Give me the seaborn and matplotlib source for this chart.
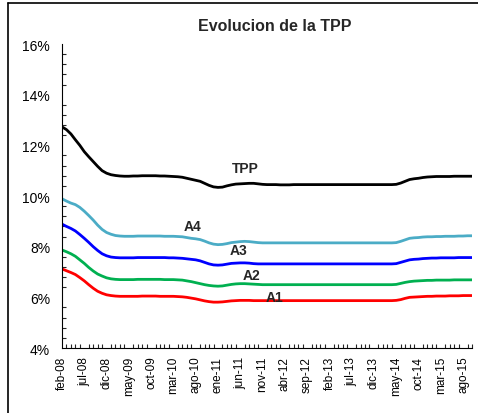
import seaborn as sns
import matplotlib.pyplot as plt
import pandas as pd
from matplotlib.lines import Line2D
from matplotlib.ticker import MultipleLocator, FuncFormatter

# tasas mensuales (%) feb-08 .. oct-15
tpp = [12.73, 12.62, 12.45, 12.22, 12.00, 11.75, 11.55, 11.36, 11.17, 11.00,
       10.90, 10.84, 10.81, 10.79, 10.78, 10.78, 10.79, 10.79, 10.80, 10.80,
       10.80, 10.80, 10.79, 10.79, 10.78, 10.77, 10.76, 10.74, 10.70, 10.66,
       10.62, 10.58, 10.50, 10.42, 10.36, 10.34, 10.35, 10.40, 10.44, 10.47,
       10.48, 10.49, 10.50, 10.50, 10.48, 10.46, 10.45, 10.45, 10.45, 10.44,
       10.44, 10.44, 10.45, 10.45, 10.45, 10.45, 10.45, 10.45, 10.45, 10.45,
       10.45, 10.45, 10.45, 10.45, 10.45, 10.45, 10.45, 10.45, 10.45, 10.45,
       10.45, 10.45, 10.45, 10.45, 10.45, 10.46, 10.51, 10.58, 10.65, 10.68,
       10.70, 10.73, 10.75, 10.76, 10.77, 10.77, 10.77, 10.77, 10.78, 10.78,
       10.78, 10.78, 10.78]
a4 = [9.89, 9.80, 9.72, 9.66, 9.55, 9.40, 9.23, 9.05, 8.85, 8.68,
      8.56, 8.49, 8.44, 8.42, 8.41, 8.41, 8.41, 8.42, 8.42, 8.42,
      8.42, 8.42, 8.42, 8.41, 8.41, 8.41, 8.40, 8.39, 8.36, 8.33,
      8.31, 8.28, 8.22, 8.15, 8.10, 8.08, 8.09, 8.12, 8.16, 8.18,
      8.20, 8.21, 8.20, 8.18, 8.16, 8.15, 8.15, 8.15, 8.15, 8.15,
      8.15, 8.15, 8.15, 8.15, 8.15, 8.15, 8.15, 8.15, 8.15, 8.15,
      8.15, 8.15, 8.15, 8.15, 8.15, 8.15, 8.15, 8.15, 8.15, 8.15,
      8.15, 8.15, 8.15, 8.15, 8.15, 8.16, 8.21, 8.27, 8.33, 8.35,
      8.36, 8.38, 8.39, 8.39, 8.40, 8.40, 8.41, 8.41, 8.41, 8.42,
      8.42, 8.43, 8.43]
a3 = [8.89, 8.80, 8.72, 8.62, 8.48, 8.33, 8.17, 8.00, 7.85, 7.72,
      7.64, 7.59, 7.57, 7.56, 7.56, 7.56, 7.56, 7.57, 7.57, 7.57,
      7.57, 7.57, 7.57, 7.57, 7.56, 7.56, 7.55, 7.54, 7.52, 7.50,
      7.48, 7.44, 7.38, 7.32, 7.28, 7.27, 7.28, 7.31, 7.34, 7.35,
      7.36, 7.36, 7.35, 7.33, 7.32, 7.32, 7.32, 7.32, 7.32, 7.32,
      7.32, 7.32, 7.32, 7.32, 7.32, 7.32, 7.32, 7.32, 7.32, 7.32,
      7.32, 7.32, 7.32, 7.32, 7.32, 7.32, 7.32, 7.32, 7.32, 7.32,
      7.32, 7.32, 7.32, 7.32, 7.32, 7.33, 7.38, 7.43, 7.48, 7.50,
      7.51, 7.53, 7.54, 7.55, 7.55, 7.56, 7.56, 7.56, 7.56, 7.57,
      7.57, 7.57, 7.57]
a2 = [7.87, 7.80, 7.72, 7.62, 7.48, 7.34, 7.18, 7.04, 6.92, 6.84,
      6.77, 6.73, 6.71, 6.70, 6.70, 6.70, 6.70, 6.71, 6.71, 6.71,
      6.71, 6.71, 6.71, 6.70, 6.70, 6.70, 6.69, 6.68, 6.65, 6.62,
      6.58, 6.54, 6.50, 6.47, 6.45, 6.44, 6.45, 6.48, 6.51, 6.53,
      6.54, 6.54, 6.53, 6.52, 6.51, 6.50, 6.50, 6.50, 6.50, 6.50,
      6.50, 6.50, 6.50, 6.50, 6.50, 6.50, 6.50, 6.50, 6.50, 6.50,
      6.50, 6.50, 6.50, 6.50, 6.50, 6.50, 6.50, 6.50, 6.50, 6.50,
      6.50, 6.50, 6.50, 6.50, 6.50, 6.51, 6.55, 6.59, 6.62, 6.64,
      6.65, 6.66, 6.67, 6.67, 6.68, 6.68, 6.68, 6.68, 6.69, 6.69,
      6.69, 6.69, 6.69]
a1 = [7.12, 7.05, 6.98, 6.90, 6.78, 6.65, 6.50, 6.36, 6.24, 6.16,
      6.10, 6.07, 6.05, 6.04, 6.04, 6.04, 6.04, 6.04, 6.05, 6.05,
      6.05, 6.05, 6.04, 6.04, 6.04, 6.04, 6.03, 6.02, 6.00, 5.97,
      5.94, 5.90, 5.86, 5.83, 5.81, 5.81, 5.82, 5.84, 5.86, 5.87,
      5.88, 5.88, 5.88, 5.87, 5.87, 5.87, 5.87, 5.87, 5.87, 5.87,
      5.87, 5.87, 5.87, 5.87, 5.87, 5.87, 5.87, 5.87, 5.87, 5.87,
      5.87, 5.87, 5.87, 5.87, 5.87, 5.87, 5.87, 5.87, 5.87, 5.87,
      5.87, 5.87, 5.87, 5.87, 5.87, 5.88, 5.91, 5.96, 6.00, 6.01,
      6.02, 6.03, 6.04, 6.04, 6.05, 6.05, 6.05, 6.06, 6.06, 6.06,
      6.07, 6.07, 6.07]

tick_labels = ['feb-08', 'jul-08', 'dic-08', 'may-09', 'oct-09', 'mar-10',
               'ago-10', 'ene-11', 'jun-11', 'nov-11', 'abr-12', 'sep-12',
               'feb-13', 'jul-13', 'dic-13', 'may-14', 'oct-14', 'mar-15',
               'ago-15']
tick_pos = list(range(0, 91, 5))

series = {'TPP': tpp, 'A4': a4, 'A3': a3, 'A2': a2, 'A1': a1}
colores = {'TPP': '#000000', 'A4': '#4BACC6', 'A3': '#0000FF',
           'A2': '#00B050', 'A1': '#FF0000'}
# posicion de las etiquetas (mes, %)
etiquetas = {'TPP': (41.2, 11.10), 'A4': (29.2, 8.83), 'A3': (39.7, 7.88),
             'A2': (42.5, 6.90), 'A1': (47.7, 6.03)}

df = pd.concat([pd.DataFrame({'mes': range(len(v)), 'tasa': v, 'serie': k})
                for k, v in series.items()])

sns.set_style('white')
plt.rcParams['font.family'] = ['Liberation Sans', 'DejaVu Sans']

fig = plt.figure(figsize=(4.78, 4.14), dpi=100)
ax = fig.add_axes([0.1297, 0.157, 0.8577, 0.7343])
sns.lineplot(data=df, x='mes', y='tasa', hue='serie', palette=colores,
             linewidth=2, legend=False, ax=ax)

for k, (x, y) in etiquetas.items():
    ax.text(x, y, k, ha='center', va='center', fontsize=10, fontweight='bold')

ax.set_xlim(0, 92)
ax.set_ylim(4, 16)
ax.set_xlabel('')
ax.set_ylabel('')
ax.set_xticks(tick_pos)
ax.set_xticklabels(tick_labels, rotation=90, fontsize=8.5)
ax.xaxis.set_minor_locator(MultipleLocator(1))
ax.yaxis.set_major_locator(MultipleLocator(2))
ax.yaxis.set_minor_locator(MultipleLocator(0.4))
ax.yaxis.set_major_formatter(FuncFormatter(lambda v, p: f'{v:.0f}%'))
ax.tick_params(axis='y', which='major', direction='inout', length=7,
               width=0.8, labelsize=10, pad=5, colors='black')
ax.tick_params(axis='y', which='minor', direction='in', length=3,
               width=0.8, left=True)
ax.tick_params(axis='x', which='major', direction='inout', length=7,
               width=0.8, pad=2, colors='black')
ax.tick_params(axis='x', which='minor', direction='in', length=3,
               width=0.8, bottom=True)
for s in ['top', 'right']:
    ax.spines[s].set_visible(False)
for s in ['left', 'bottom']:
    ax.spines[s].set_color('black')
    ax.spines[s].set_linewidth(0.8)

fig.text(0.575, 0.935, 'Evolucion de la TPP', ha='center', va='center',
         fontsize=11.5, fontweight='bold')

# marco del grafico
fig.add_artist(Line2D([8 / 478, 1.0], [1 - 4 / 414, 1 - 4 / 414],
                      color='black', linewidth=1.2, transform=fig.transFigure))
fig.add_artist(Line2D([8 / 478, 8 / 478], [0.0, 1 - 4 / 414],
                      color='black', linewidth=1.2, transform=fig.transFigure))

fig.savefig('out.png', dpi=100)
